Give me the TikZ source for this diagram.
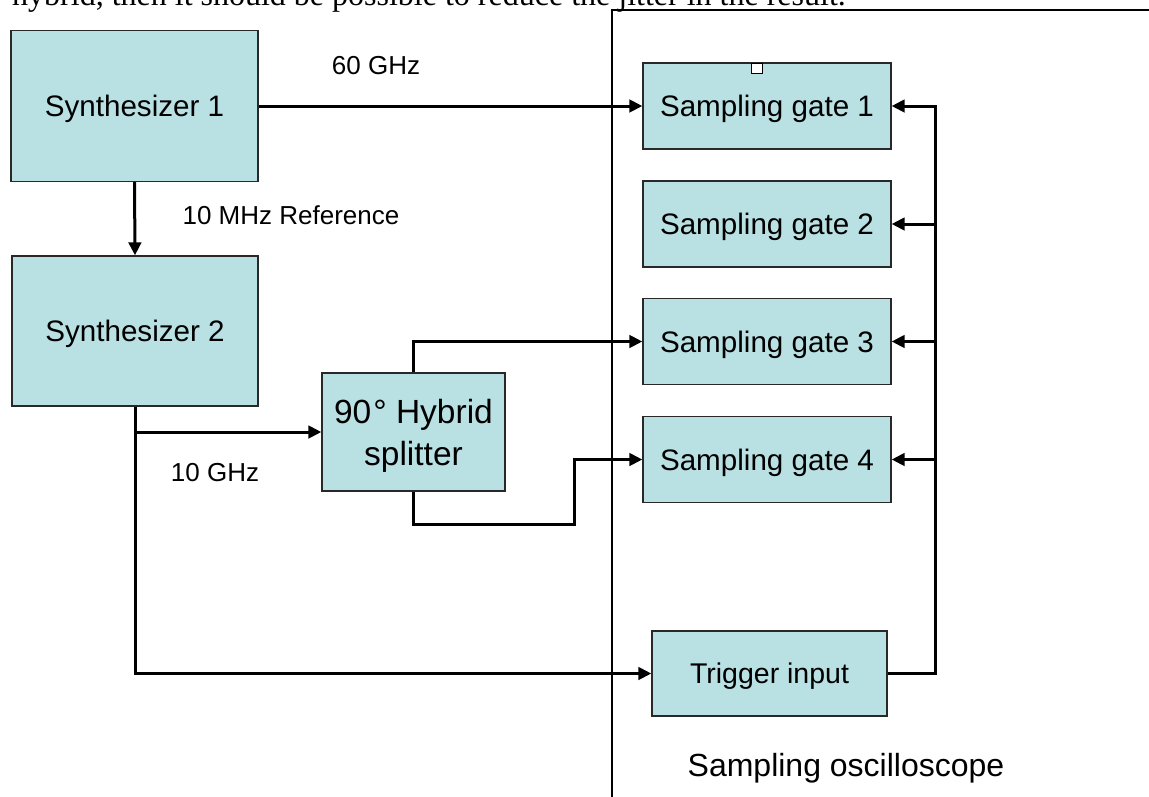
\documentclass[tikz,border=0pt]{standalone}
\usepackage{fontspec}
\setmainfont{Liberation Sans}
\newfontfamily\bodyserif{Liberation Serif}
\usetikzlibrary{arrows.meta}
\definecolor{boxfill}{RGB}{185,224,227}
\definecolor{boxline}{RGB}{40,40,40}
\tikzset{
  blk/.style={draw=boxline, line width=1.3pt, fill=boxfill, inner sep=0pt,
    text height=21.2pt, text depth=0pt, font=\fontsize{29.6}{34}\selectfont},
  gate/.style={blk, minimum width=248pt, minimum height=86pt},
  lbl/.style={inner sep=0pt, text height=18.6pt, text depth=0pt,
    font=\fontsize{26}{30}\selectfont},
  wire/.style={line width=3pt},
  feed/.style={wire, -{Triangle[length=13pt,width=12.5pt]}},
  frame/.style={line width=1.5pt}
}
\begin{document}
\begin{tikzpicture}[x=1pt, y=-1pt]
\useasboundingbox (0,0) rectangle (1149,796);
\clip (0,0) rectangle (1149,796);

% running text of the page above the figure
\node[inner sep=0pt, anchor=base west, font=\bodyserif\fontsize{32}{38}\selectfont]
  (bodytext) at (12,5) {hybrid, then it should be possible to reduce the jitter in the result.};

% oscilloscope enclosure
\draw[frame] (612,810) -- (612,10) -- (1160,10);

% signal sources
\node[blk, minimum width=247pt, minimum height=151pt] (syn1) at (134.5,106) {Synthesizer 1};
\node[blk, minimum width=246pt, minimum height=150pt] (syn2) at (135,331) {Synthesizer 2};
\node[blk, minimum width=183pt, minimum height=118pt, align=center, text height=, text depth=0pt,
  font=\fontsize{33.5}{42}\selectfont] (hyb) at (413.5,432) {90\kern2pt° Hybrid\\splitter};

% sampling gates and trigger
\node[gate] (g1) at (767,106) {Sampling gate 1};
\node[gate] (g2) at (767,224) {Sampling gate 2};
\node[gate] (g3) at (767,341.5) {Sampling gate 3};
\node[gate] (g4) at (767,459.5) {Sampling gate 4};
\node[blk, minimum width=235pt, minimum height=85pt, text height=20.4pt,
  font=\fontsize{28.5}{33}\selectfont] (trig) at (769.5,673.5) {Trigger input};
\draw[line width=0.8pt, fill=white] (751,63) rectangle (762,73);

% labels
\node[lbl] (l60) at (376,65.5) {60 GHz};
\node[lbl] (lref) at (291,215.5) {10 MHz Reference};
\node[lbl] (l10) at (215,472) {10 GHz};
\node[inner sep=0pt, text height=22.9pt, text depth=0pt, font=\fontsize{32}{38}\selectfont]
  (scope) at (846,765.5) {Sampling oscilloscope};

% helper points for the routing
\coordinate (bus) at (935,0);
\coordinate (jog) at (574,524);

% connections
\draw[feed] (syn1.east) -- (syn1.east -| g1.west);
\draw[feed] (syn1.south) -- (syn2.north);
\draw[feed] (syn2.south) |- (trig.west);
\draw[feed] (syn2.south |- hyb.west) -- (hyb.west);
\draw[feed] (hyb.north) |- (g3.west);
\draw[feed] (hyb.south) |- (jog) |- (g4.west);

% trigger bus to all gates
\draw[feed] (trig.east) -| (bus |- g1.east) -- (g1.east);
\draw[feed] (bus |- g2.east) -- (g2.east);
\draw[feed] (bus |- g3.east) -- (g3.east);
\draw[feed] (bus |- g4.east) -- (g4.east);
\end{tikzpicture}
\end{document}
